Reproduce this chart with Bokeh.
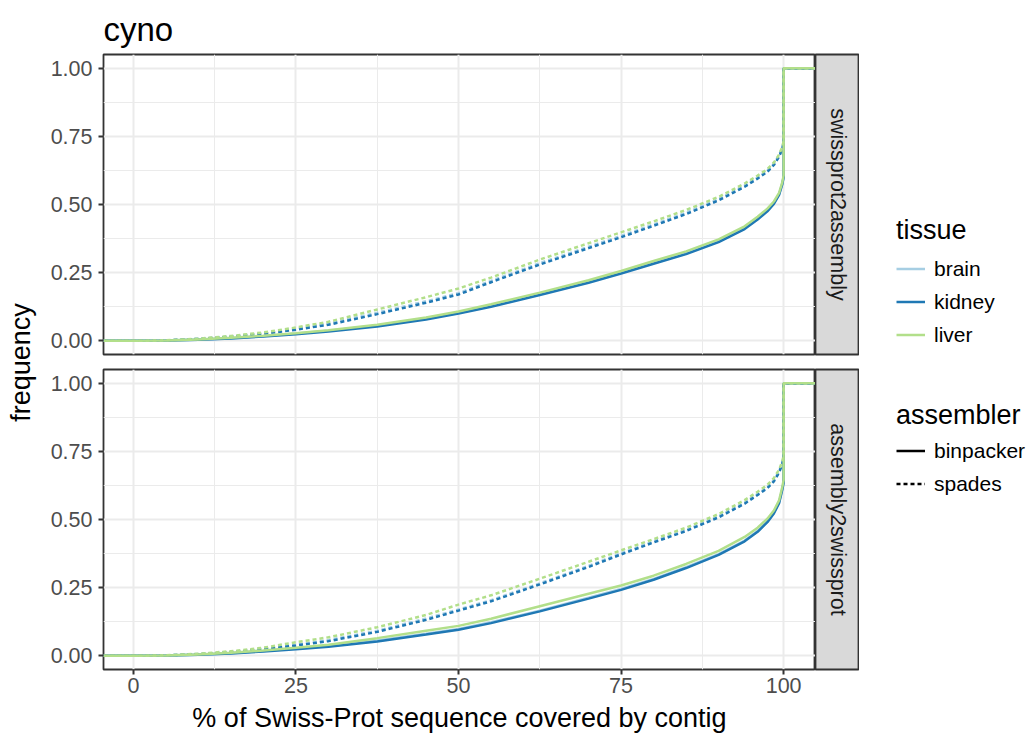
import math
from bokeh.plotting import figure
from bokeh.layouts import row, column
from bokeh.models import (Range1d, FixedTicker, PrintfTickFormatter, Label,
                          Legend, LegendItem, ColumnDataSource)
from bokeh.embed import file_html
from bokeh.resources import INLINE

FONT = "Liberation Sans"

# ---------------- data ----------------
TITLE = "cyno"
X_LABEL = "% of Swiss-Prot sequence covered by contig"
Y_LABEL = "frequency"
FACETS = ["swissprot2assembly", "assembly2swissprot"]
TISSUES = ["brain", "kidney", "liver"]
TISSUE_COLORS = ["#a6cee3", "#1f78b4", "#b2df8a"]
ASSEMBLERS = ["binpacker", "spades"]
ASSEMBLER_DASH = ["solid", "4 3"]
X_TICKS = [0, 25, 50, 75, 100]
X_MINOR = [12.5, 37.5, 62.5, 87.5]
Y_TICKS = [0.0, 0.25, 0.5, 0.75, 1.0]
Y_MINOR = [0.125, 0.375, 0.625, 0.875]

coverage = [0, 5, 10, 15, 20, 25, 30, 37.5, 45, 50, 55, 62.5, 70, 75, 80,
            85, 90, 94, 96, 97.5, 98.5, 99.3, 99.8, 100, 100]

# swissprot2assembly
s2a_binpacker_brain = [0, 0.001, 0.004, 0.010, 0.018, 0.027, 0.037, 0.056, 0.081, 0.103, 0.128, 0.171,
                       0.216, 0.250, 0.286, 0.321, 0.365, 0.413, 0.448, 0.478, 0.505, 0.538, 0.578, 0.603, 1.0]
s2a_binpacker_kidney = [0, 0.001, 0.004, 0.009, 0.016, 0.024, 0.034, 0.053, 0.078, 0.100, 0.125, 0.168,
                        0.213, 0.247, 0.283, 0.318, 0.362, 0.410, 0.445, 0.475, 0.502, 0.535, 0.575, 0.600, 1.0]
s2a_binpacker_liver = [0, 0.001, 0.005, 0.011, 0.019, 0.028, 0.039, 0.059, 0.086, 0.108, 0.134, 0.177,
                       0.222, 0.256, 0.293, 0.328, 0.372, 0.420, 0.455, 0.485, 0.511, 0.543, 0.582, 0.607, 1.0]
s2a_spades_brain = [0, 0.002, 0.007, 0.016, 0.028, 0.045, 0.064, 0.103, 0.145, 0.175, 0.220, 0.285,
                    0.345, 0.385, 0.427, 0.470, 0.520, 0.570, 0.600, 0.625, 0.650, 0.680, 0.710, 0.730, 1.0]
s2a_spades_kidney = [0, 0.002, 0.007, 0.015, 0.026, 0.041, 0.059, 0.098, 0.140, 0.170, 0.215, 0.280,
                     0.340, 0.380, 0.422, 0.465, 0.515, 0.565, 0.595, 0.620, 0.645, 0.675, 0.705, 0.725, 1.0]
s2a_spades_liver = [0, 0.002, 0.008, 0.018, 0.031, 0.049, 0.070, 0.115, 0.160, 0.192, 0.232, 0.298,
                    0.358, 0.398, 0.438, 0.480, 0.528, 0.577, 0.606, 0.630, 0.654, 0.683, 0.712, 0.732, 1.0]

# assembly2swissprot
a2s_binpacker_brain = [0, 0.001, 0.004, 0.010, 0.018, 0.027, 0.036, 0.056, 0.081, 0.099, 0.123, 0.166,
                       0.213, 0.245, 0.282, 0.325, 0.373, 0.423, 0.458, 0.493, 0.525, 0.563, 0.613, 0.638, 1.0]
a2s_binpacker_kidney = [0, 0.001, 0.004, 0.009, 0.016, 0.024, 0.033, 0.053, 0.078, 0.096, 0.120, 0.163,
                        0.210, 0.242, 0.279, 0.322, 0.370, 0.420, 0.455, 0.490, 0.522, 0.560, 0.610, 0.635, 1.0]
a2s_binpacker_liver = [0, 0.001, 0.005, 0.011, 0.020, 0.030, 0.041, 0.065, 0.092, 0.110, 0.136, 0.182,
                       0.228, 0.258, 0.294, 0.337, 0.385, 0.436, 0.470, 0.503, 0.533, 0.570, 0.620, 0.645, 1.0]
a2s_spades_brain = [0, 0.002, 0.007, 0.014, 0.026, 0.041, 0.058, 0.092, 0.137, 0.170, 0.204, 0.266,
                    0.330, 0.376, 0.420, 0.462, 0.512, 0.562, 0.594, 0.619, 0.644, 0.676, 0.709, 0.729, 1.0]
a2s_spades_kidney = [0, 0.002, 0.006, 0.013, 0.024, 0.038, 0.054, 0.088, 0.132, 0.166, 0.200, 0.262,
                     0.326, 0.372, 0.416, 0.458, 0.508, 0.558, 0.590, 0.615, 0.640, 0.672, 0.705, 0.725, 1.0]
a2s_spades_liver = [0, 0.002, 0.008, 0.017, 0.030, 0.050, 0.068, 0.105, 0.150, 0.188, 0.222, 0.283,
                    0.345, 0.387, 0.428, 0.470, 0.520, 0.571, 0.602, 0.627, 0.652, 0.683, 0.714, 0.735, 1.0]

SERIES = {
    "swissprot2assembly": {
        ("brain", "binpacker"): s2a_binpacker_brain,
        ("brain", "spades"): s2a_spades_brain,
        ("kidney", "binpacker"): s2a_binpacker_kidney,
        ("kidney", "spades"): s2a_spades_kidney,
        ("liver", "binpacker"): s2a_binpacker_liver,
        ("liver", "spades"): s2a_spades_liver,
    },
    "assembly2swissprot": {
        ("brain", "binpacker"): a2s_binpacker_brain,
        ("brain", "spades"): a2s_spades_brain,
        ("kidney", "binpacker"): a2s_binpacker_kidney,
        ("kidney", "spades"): a2s_spades_kidney,
        ("liver", "binpacker"): a2s_binpacker_liver,
        ("liver", "spades"): a2s_spades_liver,
    },
}

X_LO, X_HI = -4.6, 104.9
Y_LO, Y_HI = -0.05, 1.05

LINE_W = 2.5
GRID_C = "#ebebeb"
DARK = "#333333"
TICK_C = "#4d4d4d"
SMALL = "21.5px"
BIG = "27px"


def make_panel(facet, show_x, top, bottom):
    p = figure(frame_width=712, frame_height=300,
               x_range=Range1d(X_LO, X_HI), y_range=Range1d(Y_LO, Y_HI),
               x_axis_location="below" if show_x else None, y_axis_location="left",
               output_backend="svg", toolbar_location=None,
               min_border_left=63, min_border_right=0,
               min_border_top=top, min_border_bottom=bottom)
    p.background_fill_color = "white"
    p.border_fill_color = "white"
    p.outline_line_color = DARK
    p.outline_line_width = 1.8

    p.xgrid.ticker = FixedTicker(ticks=X_TICKS, minor_ticks=X_MINOR)
    p.ygrid.ticker = FixedTicker(ticks=Y_TICKS, minor_ticks=Y_MINOR)
    for g in (p.xgrid, p.ygrid):
        g.grid_line_color = GRID_C
        g.grid_line_width = 2
        g.minor_grid_line_color = GRID_C
        g.minor_grid_line_width = 1

    p.yaxis.ticker = FixedTicker(ticks=Y_TICKS)
    p.yaxis.formatter = PrintfTickFormatter(format="%.2f")
    p.yaxis.major_label_standoff = 6
    axes = list(p.yaxis)
    if show_x:
        p.xaxis.ticker = FixedTicker(ticks=X_TICKS)
        p.xaxis.axis_label = X_LABEL
        p.xaxis.axis_label_text_font = FONT
        p.xaxis.axis_label_text_font_size = BIG
        p.xaxis.axis_label_text_font_style = "normal"
        p.xaxis.axis_label_text_color = "black"
        p.xaxis.axis_label_standoff = 7
        p.xaxis.major_label_standoff = 3
        axes += list(p.xaxis)
    for ax in axes:
        ax.axis_line_color = None
        ax.major_tick_out = 5
        ax.major_tick_in = 0
        ax.minor_tick_out = 0
        ax.minor_tick_in = 0
        ax.major_tick_line_color = DARK
        ax.major_tick_line_width = 2
        ax.major_label_text_font = FONT
        ax.major_label_text_font_size = SMALL
        ax.major_label_text_color = TICK_C

    data = SERIES[facet]
    for t, col in zip(TISSUES, TISSUE_COLORS):
        for a, dash in zip(ASSEMBLERS, ASSEMBLER_DASH):
            vals = data[(t, a)]
            xs = [X_LO] + coverage + [X_HI]
            ys = [0.0] + vals + [1.0]
            p.line(xs, ys, line_color=col, line_width=LINE_W, line_dash=dash)
    return p


p1 = make_panel(FACETS[0], False, 54, 7)
p1.title.text = TITLE
p1.title.text_font = FONT
p1.title.text_font_size = "33px"
p1.title.text_font_style = "normal"
p1.title.text_color = "black"
p1.title.align = "left"
p1.title.standoff = 14

p2 = make_panel(FACETS[1], True, 8, 71)


def make_strip(text, top, bottom):
    s = figure(frame_width=44, frame_height=300,
               x_range=Range1d(0, 1), y_range=Range1d(0, 1),
               x_axis_location=None, y_axis_location=None,
               output_backend="svg", toolbar_location=None,
               min_border_left=0, min_border_right=0,
               min_border_top=top, min_border_bottom=bottom)
    s.grid.visible = False
    s.background_fill_color = "#d9d9d9"
    s.border_fill_color = "white"
    s.outline_line_color = DARK
    s.outline_line_width = 1.8
    s.add_layout(Label(x=0.5, y=0.5, text=text, angle=-math.pi / 2,
                       text_align="center", text_baseline="middle",
                       text_font=FONT, text_font_size=SMALL, text_color="#1a1a1a"))
    return s


s1 = make_strip(FACETS[0], 54, 7)
s2 = make_strip(FACETS[1], 8, 71)

# y axis title spanning both panels
lab = figure(width=40, height=740, x_range=Range1d(0, 40), y_range=Range1d(0, 740),
             x_axis_location=None, y_axis_location=None,
             output_backend="svg", toolbar_location=None, min_border=0)
lab.grid.visible = False
lab.outline_line_color = None
lab.add_layout(Label(x=20, y=378, text=Y_LABEL, angle=math.pi / 2,
                     text_align="center", text_baseline="middle",
                     text_font=FONT, text_font_size=BIG, text_color="black"))

# legends (keys drawn from placeholder renderers with no visible points)
lf = figure(width=175, height=740, x_range=Range1d(0, 1), y_range=Range1d(0, 1),
            x_axis_location=None, y_axis_location=None,
            output_backend="svg", toolbar_location=None, min_border=0)
lf.grid.visible = False
lf.outline_line_color = None
placeholder = ColumnDataSource(data=dict(x=[float("nan")], y=[float("nan")]))

t_items = []
for t, col in zip(TISSUES, TISSUE_COLORS):
    r = lf.line("x", "y", source=placeholder, line_color=col, line_width=LINE_W)
    t_items.append(LegendItem(label=t, renderers=[r]))
a_items = []
for a, dash in zip(ASSEMBLERS, ASSEMBLER_DASH):
    r = lf.line("x", "y", source=placeholder, line_color="black", line_width=LINE_W, line_dash=dash)
    a_items.append(LegendItem(label=a, renderers=[r]))


def style_legend(lg, standoff):
    lg.title_text_font = FONT
    lg.title_text_font_size = BIG
    lg.title_text_font_style = "normal"
    lg.title_text_color = "black"
    lg.label_text_font = FONT
    lg.label_text_font_size = "21px"
    lg.label_text_color = "black"
    lg.glyph_width = 29
    lg.glyph_height = 33
    lg.label_height = 33
    lg.spacing = 0
    lg.padding = 0
    lg.margin = 0
    lg.label_standoff = 9
    lg.title_standoff = standoff
    lg.background_fill_alpha = 0
    lg.border_line_color = None


leg_t = Legend(items=t_items, title="tissue", location=(37, 389))
leg_a = Legend(items=a_items, title="assembler", location=(37, 240))
style_legend(leg_t, 6)
style_legend(leg_a, 3)
lf.add_layout(leg_t)
lf.add_layout(leg_a)

layout = row(lab, column(p1, p2), column(s1, s2), lf)

open("out.html", "w").write(file_html(layout, INLINE))
